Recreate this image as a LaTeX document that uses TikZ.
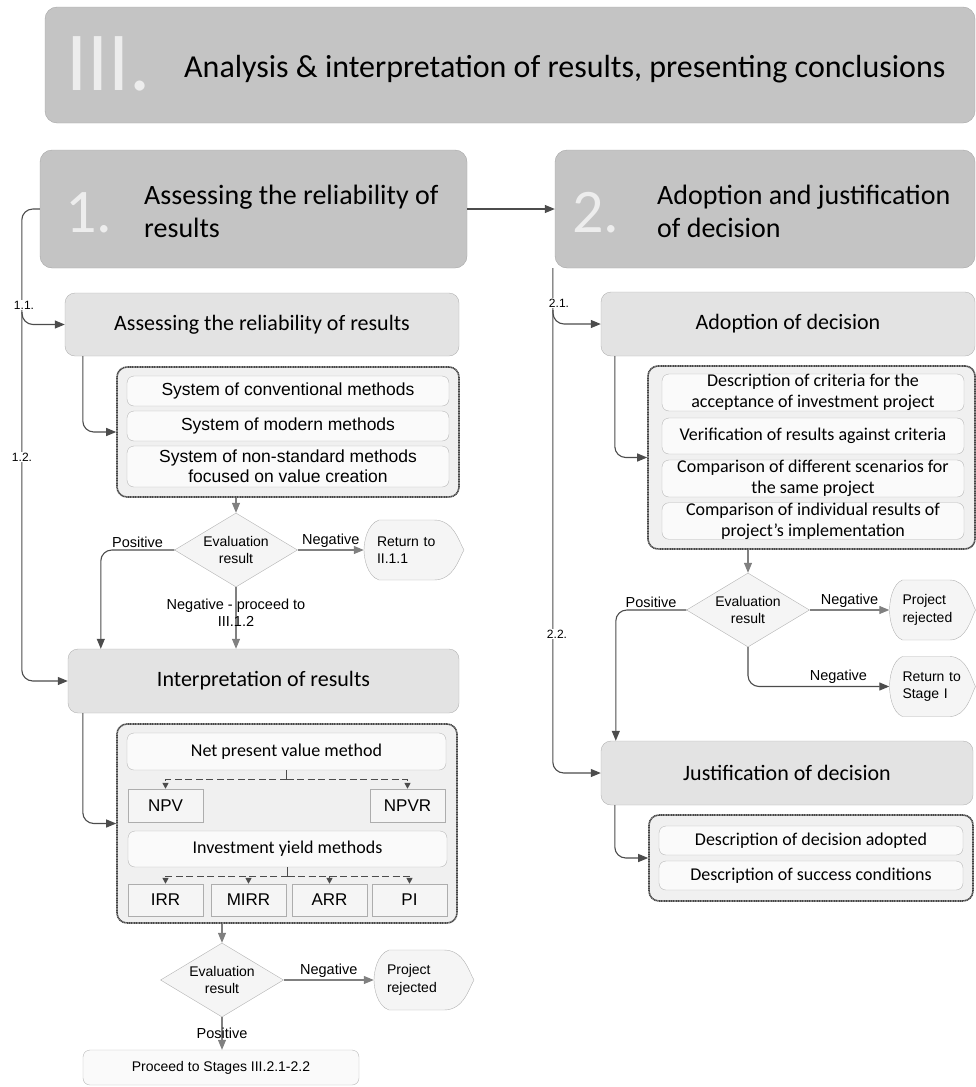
\documentclass[tikz,border=0pt]{standalone}
\usepackage{fontspec}
\setmainfont{Liberation Sans}
\newfontfamily\calfont{Carlito}
\usetikzlibrary{shapes.geometric,arrows.meta}

\tikzset{
  stagebox/.style={draw=black!35, fill=black!23, rounded corners=12pt, inner sep=0pt},
  bignum/.style={text=white!93!black, inner sep=0pt},
  titletext/.style={font=\calfont\fontsize{28}{33}\selectfont, inner sep=0pt, align=left},
  subbox/.style={draw=black!30, fill=black!11, rounded corners=10pt, inner sep=0pt, font=\calfont\fontsize{22}{26}\selectfont},
  group/.style={draw=black!72, line width=1.6pt, dash pattern=on 1.2pt off 0.5pt, fill=black!6, rounded corners=10pt, inner sep=0pt},
  item/.style={draw=black!28, fill=black!2, rounded corners=7pt, inner sep=0pt, align=center},
  calitem/.style={item, font=\calfont\fontsize{18}{21}\selectfont},
  arialitem/.style={item, font=\fontsize{17.5}{20}\selectfont},
  method/.style={draw=black!32, fill=black!4, inner sep=0pt, minimum width=75pt, minimum height=33pt, font=\fontsize{17}{20}\selectfont},
  decision/.style={shape=diamond, aspect=1.66, draw=black!30, fill=black!4, inner sep=0pt, minimum width=123pt, minimum height=74pt, align=center, font=\fontsize{14}{17}\selectfont},
  exittext/.style={inner xsep=13pt, inner ysep=0pt, minimum height=60pt, align=left, font=\fontsize{14}{17.5}\selectfont},
  exitfill/.style={draw=black!30, fill=black!4},
  lbl/.style={font=\fontsize{14.5}{17}\selectfont, inner sep=2pt, align=center},
  raillbl/.style={font=\fontsize{12}{14}\selectfont, fill=white, inner sep=1pt},
  flow/.style={draw=black!70, line width=1.1pt, rounded corners=11pt, -{Triangle[length=10pt,width=8pt]}},
  declink/.style={flow, draw=black!50},
  tick/.style={draw=black!70, line width=1.4pt},
  dashlink/.style={draw=black!70, line width=1.4pt, dash pattern=on 7pt off 3.5pt, -{Triangle[length=6pt,width=6pt]}},
}

% end shape: [width]{name}{x}{y}{text}
\newcommand{\exitshape}[5][100]{%
  \path[exitfill] ({#3-0.35*#1},{#4-30}) -- ({#3+0.2*#1},{#4-30})
    .. controls ({#3+0.4*#1},{#4-30}) and ({#3+0.45*#1},{#4-8}) .. ({#3+0.5*#1},{#4})
    .. controls ({#3+0.45*#1},{#4+8}) and ({#3+0.4*#1},{#4+30}) .. ({#3+0.2*#1},{#4+30})
    -- ({#3-0.35*#1},{#4+30})
    .. controls ({#3-0.47*#1},{#4+26}) and ({#3-0.5*#1},{#4+8}) .. ({#3-0.5*#1},{#4})
    .. controls ({#3-0.5*#1},{#4-8}) and ({#3-0.47*#1},{#4-26}) .. cycle;
  \pgfmathsetmacro\exitw{#1-26}%
  \node[exittext, text width=\exitw pt] (#2) at (#3,#4) {#5};%
}

\begin{document}
\begin{tikzpicture}[x=1pt, y=-1pt]
	\useasboundingbox (0,0) rectangle (976,1087);

	% stage III banner
	\node[stagebox, minimum width=930pt, minimum height=116pt] (stage) at (510,65) {};
	\node[bignum, font=\calfont\fontsize{84}{84}\selectfont, anchor=base west] (stagenum) at (66,90) {III.};
	\node[titletext, font=\calfont\fontsize{32}{36}\selectfont, anchor=base west] (stagetitle) at (184,77) {Analysis \& interpretation of results, presenting conclusions};

	% part headers
	\node[stagebox, minimum width=427pt, minimum height=118pt] (part1) at (253.5,209) {};
	\node[bignum, font=\calfont\fontsize{62}{62}\selectfont, anchor=base west] (part1num) at (65,232) {1.};
	\node[titletext, anchor=west] (part1title) at (144,211) {Assessing the reliability of\\results};
	\node[stagebox, minimum width=420pt, minimum height=118pt] (part2) at (765,209) {};
	\node[bignum, font=\calfont\fontsize{62}{62}\selectfont, anchor=base west] (part2num) at (572,232) {2.};
	\node[titletext, anchor=west] (part2title) at (657,211) {Adoption and justification\\of decision};
	\draw[flow] (part1.east) -- (part2.west);

	% 1.1 reliability
	\node[subbox, minimum width=394pt, minimum height=63pt] (reliab) at (262,324.5) {Assessing the reliability of results};
	\node[group, minimum width=342pt, minimum height=130pt] (reliabgrp) at (288,432) {};
	\node[arialitem, minimum width=322pt, minimum height=30pt] (conv) at (288,391) {System of conventional methods};
	\node[arialitem, minimum width=322pt, minimum height=30pt] (modern) at (288,426) {System of modern methods};
	\node[arialitem, minimum width=322pt, minimum height=41pt] (nonstd) at (288,466.5) {System of non-standard methods\\focused on value creation};
	\node[decision] (check1) at (236,550) {Evaluation\\result};
	\exitshape{back1}{414}{550}{Return to\\II.1.1}

	% 1.2 interpretation
	\node[subbox, minimum width=391pt, minimum height=64pt] (interp) at (263.5,681) {Interpretation of results};
	\node[group, minimum width=340pt, minimum height=199pt] (valuegrp) at (287,823.5) {};
	\node[calitem, minimum width=319pt, minimum height=37pt] (npvm) at (286.5,751.5) {Net present value method};
	\node[method] (npv) at (165.5,805.5) {NPV};
	\node[method] (npvr) at (407.5,805.5) {NPVR};
	\node[calitem, minimum width=319pt, minimum height=36pt] (yield) at (287.5,849) {Investment yield methods};
	\node[method, minimum height=32pt] (irr) at (165.5,900) {IRR};
	\node[method, minimum height=32pt] (mirr) at (248.5,900) {MIRR};
	\node[method, minimum height=32pt] (arr) at (329.5,900) {ARR};
	\node[method, minimum height=32pt] (pi) at (409.5,900) {PI};
	\node[decision] (check2) at (222,980) {Evaluation\\result};
	\exitshape{reject1}{424}{980}{Project\\rejected}
	\node[item, minimum width=276pt, minimum height=35pt, font=\fontsize{14}{17}\selectfont] (proceed) at (221,1067.5) {Proceed to Stages III.2.1-2.2};

	% 2.1 adoption
	\node[subbox, minimum width=374pt, minimum height=64pt] (adopt) at (788,324) {Adoption of decision};
	\node[group, minimum width=327pt, minimum height=183pt] (adoptgrp) at (811.5,457.5) {};
	\node[calitem, minimum width=302pt, minimum height=37pt] (criteria) at (813,392.5) {Description of criteria for the\\acceptance of investment project};
	\node[calitem, minimum width=302pt, minimum height=36pt] (verify) at (813,436) {Verification of results against criteria};
	\node[calitem, minimum width=302pt, minimum height=37pt] (scen) at (813,478.5) {Comparison of different scenarios for\\the same project};
	\node[calitem, minimum width=302pt, minimum height=36pt] (indiv) at (813,521) {Comparison of individual results of\\project’s implementation};
	\node[decision] (check3) at (748,610) {Evaluation\\result};
	\exitshape[86]{reject2}{932.5}{610}{Project\\rejected}
	\exitshape[86]{back2}{932.5}{686.5}{Return to\\Stage I}

	% 2.2 justification
	\node[subbox, minimum width=372pt, minimum height=64pt] (justif) at (787,773) {Justification of decision};
	\node[group, minimum width=324pt, minimum height=86pt] (justifgrp) at (811,858) {};
	\node[calitem, minimum width=304pt, minimum height=29pt] (adopted) at (811,840.5) {Description of decision adopted};
	\node[calitem, minimum width=304pt, minimum height=29pt] (success) at (811,875.5) {Description of success conditions};

	% left rail
	\coordinate (rail1) at (22,312);
	\draw[flow] (part1.west) -- ++(-18,0) |- (interp.west);
	\draw[flow] (rail1) |- (reliab.west);
	\draw[flow] ([xshift=18pt]reliab.south west) |- (reliabgrp.west);
	\draw[declink] (reliabgrp.south -| check1.north) -- (check1.north);
	\draw[flow] (check1.west) -| ([xshift=33pt]interp.north west) node[lbl, above, pos=0.25] {Positive};
	\draw[declink] (check1.east) -- (back1.west) node[lbl, above, midway] {Negative};
	\draw[declink] (check1.south) -- (check1.south |- interp.north) node[lbl, pos=0.42] {Negative - proceed to\\III.1.2};
	\draw[flow] ([xshift=15pt]interp.south west) |- (valuegrp.west);
	\draw[tick] (npvm.south) -- ++(0,9) coordinate (npvfork);
	\foreach \m in {npv,npvr}
		\draw[dashlink] (npvfork) -| (\m.north);
	\draw[tick] (yield.south) -- ++(0,9) coordinate (yieldfork);
	\foreach \m in {irr,mirr,arr,pi}
		\draw[dashlink] (yieldfork) -| (\m.north);
	\draw[declink] (valuegrp.south -| check2.north) -- (check2.north);
	\draw[declink] (check2.east) -- (reject1.west) node[lbl, above, midway] {Negative};
	\draw[declink] (check2.south) -- (check2.south |- proceed.north) node[lbl, midway] {Positive};

	% right rail
	\coordinate (rail2) at (553,310);
	\draw[flow] ([xshift=-2pt]part2.south west) |- (justif.west);
	\draw[flow] (rail2) |- (adopt.west);
	\draw[flow] ([xshift=14pt]adopt.south west) |- (adoptgrp.west);
	\draw[declink] (adoptgrp.south -| check3.north) -- (check3.north);
	\draw[flow] (check3.west) -| ([xshift=15pt]justif.north west) node[lbl, above, pos=0.25] {Positive};
	\draw[declink] (check3.east) -- (reject2.west) node[lbl, above, midway] {Negative};
	\draw[flow] (check3.south) |- (back2.west) node[lbl, above, pos=0.82] {Negative};
	\draw[flow] ([xshift=14pt]justif.south west) |- (justifgrp.west);

	% rail labels
	\node[raillbl] (lbl11) at (24,305) {1.1.};
	\node[raillbl] (lbl12) at (22,457) {1.2.};
	\node[raillbl] (lbl21) at (559,303) {2.1.};
	\node[raillbl] (lbl22) at (557,634) {2.2.};
\end{tikzpicture}
\end{document}
